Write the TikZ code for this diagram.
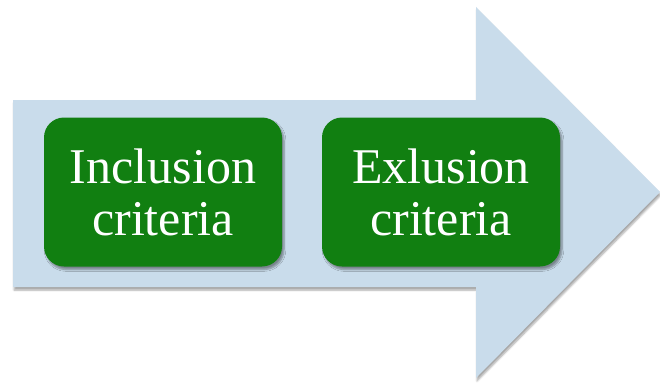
\documentclass[tikz,border=0pt]{standalone}
\usepackage{fontspec}
\setmainfont{Liberation Serif}
\usetikzlibrary{positioning,shadows.blur}
\definecolor{arrowblue}{HTML}{C9DCEB}
\definecolor{boxgreen}{HTML}{117F11}

\begin{document}
\begin{tikzpicture}[x=1pt,y=1pt,every node/.style={outer sep=0pt},
 bigarrow/.style={fill=arrowblue,blur shadow={shadow xshift=1pt,shadow yshift=-3pt,shadow blur steps=6,shadow opacity=35}},
 crit/.style={fill=boxgreen,text=white,rounded corners=20pt,minimum width=238pt,minimum height=149pt,align=center,
 font=\fontsize{50}{52}\selectfont,blur shadow={shadow xshift=2pt,shadow yshift=-3pt,shadow blur steps=6,shadow opacity=40}}]

 \useasboundingbox (0,0) rectangle (660,384);

 \fill[bigarrow] (13,97) -- (13,284) -- (476,284) -- (476,377) -- (660,192) -- (476,6) -- (476,97) -- cycle;

 \node[crit] (incl) at (163,192) {Inclusion\\criteria};
 \node[crit,right=40pt of incl] (excl) {Exlusion\\criteria};

\end{tikzpicture}
\end{document}
